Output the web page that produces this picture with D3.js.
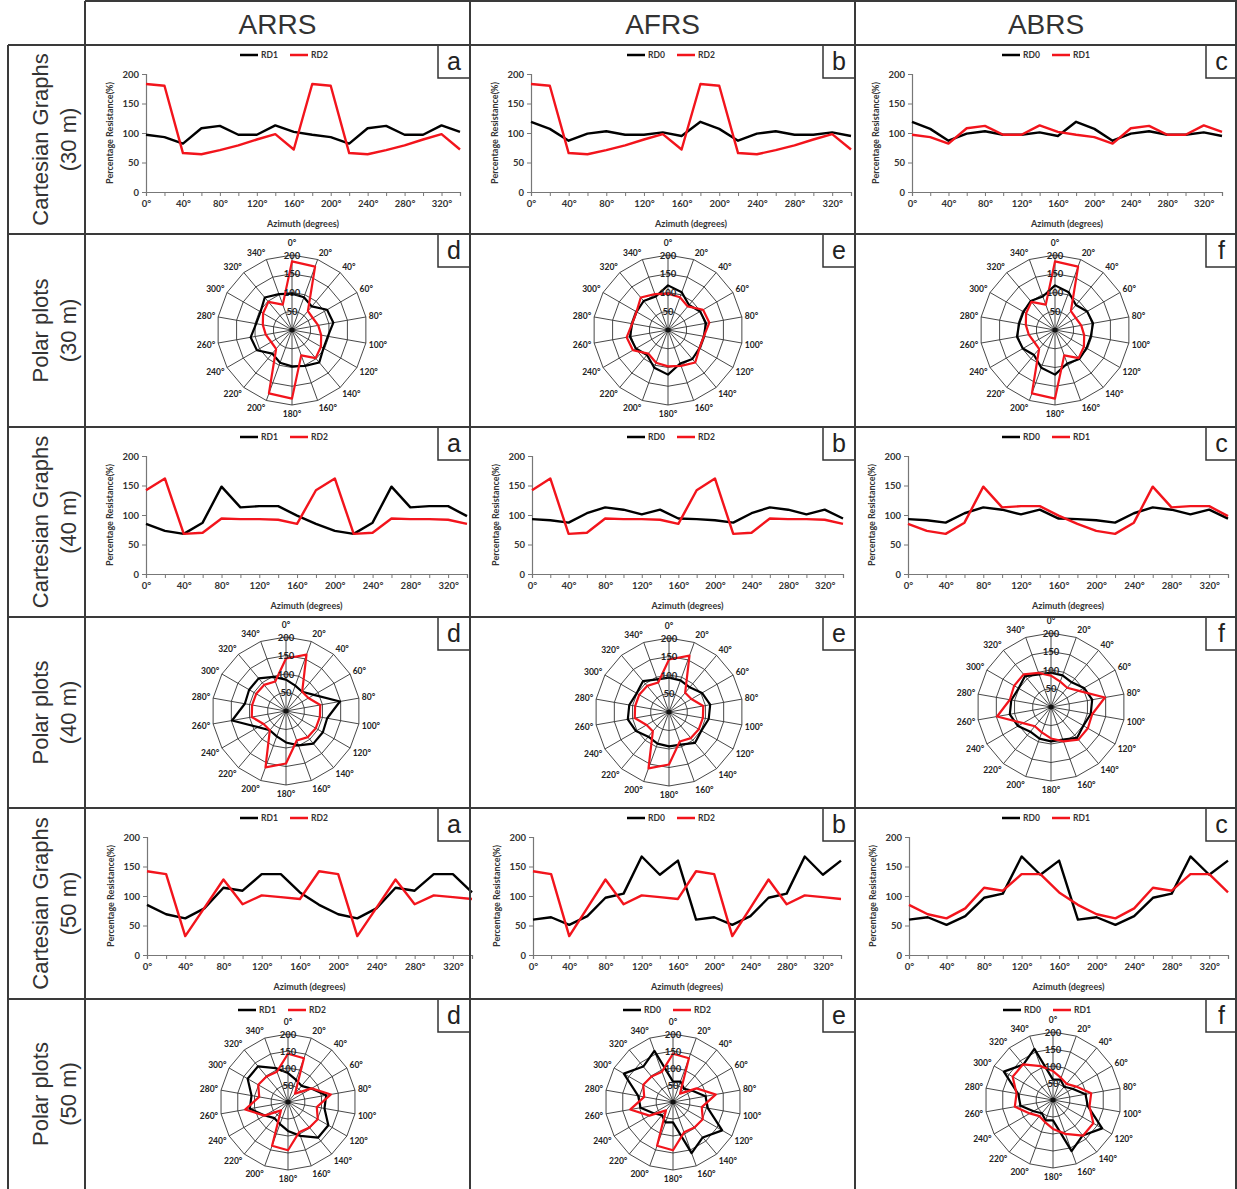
<!DOCTYPE html>
<html><head><meta charset="utf-8">
<script src="https://cdn.jsdelivr.net/npm/d3@7"></script>
<style>body{margin:0;background:#fff}svg{display:block}</style>
</head><body>
<svg id="c" width="1237" height="1189"></svg>
<script>
// ---------------- DATA ----------------
const columnTitles = ["ARRS", "AFRS", "ABRS"];
const rowTitles = [["Cartesian Graphs","(30 m)"],["Polar plots","(30 m)"],["Cartesian Graphs","(40 m)"],["Polar plots","(40 m)"],["Cartesian Graphs","(50 m)"],["Polar plots","(50 m)"]];
const angles = [0,20,40,60,80,100,120,140,160,180,200,220,240,260,280,300,320,340];
const xTickLabels = ["0°","40°","80°","120°","160°","200°","240°","280°","320°"];
const polarLabels = ["0°","20°","40°","60°","80°","100°","120°","140°","160°","180°","200°","220°","240°","260°","280°","300°","320°","340°"];
const yTicks = [0,50,100,150,200];
const ringValues = [50,100,150,200];

// 30 m
const rd0_30 = [119,107,87,99,103,97,97,101,95,119,107,87,99,103,97,97,101,95];
const rd1_30 = [97,93,82,108,112,97,97,113,102,97,93,82,108,112,97,97,113,102];
const rd2_30 = [183,180,66,64,71,79,89,98,72,183,180,66,64,71,79,89,98,72];
// 40 m
const rd0_40 = [93,91,87,103,113,109,101,109,94,93,91,87,103,113,109,101,109,94];
const rd1_40 = [85,73,68,87,148,113,115,115,99,85,73,68,87,148,113,115,115,98];
const rd2_40 = [142,162,68,70,94,93,93,92,85,142,162,68,70,94,93,93,92,85];
// 50 m
const rd0_50 = [60,64,51,66,97,104,167,136,160,60,64,51,66,97,104,167,136,160];
const rd1_50 = [85,69,62,79,114,109,137,137,106,85,69,62,79,114,109,137,137,106];
const rd2_50 = [142,137,32,80,128,86,101,98,95,142,137,32,80,128,86,101,98,95];

const legendNames = [["RD1","RD2"],["RD0","RD2"],["RD0","RD1"]];
const cartLetters = ["a","b","c"];
const polarLetters = ["d","e","f"];

// series per row: [col][black, red]
const cartSeries = {
  0: [[rd1_30, rd2_30],[rd0_30, rd2_30],[rd0_30, rd1_30]],
  2: [[rd1_40, rd2_40],[rd0_40, rd2_40],[rd0_40, rd1_40]],
  4: [[rd1_50, rd2_50],[rd0_50, rd2_50],[rd0_50, rd1_50]]
};
const polarSeries = {
  1: [[rd1_30, rd2_30],[rd0_30, rd1_30],[rd0_30, rd2_30]],
  3: [[rd1_40, rd2_40],[rd0_40, rd2_40],[rd0_40, rd1_40]],
  5: [[rd1_50, rd2_50],[rd0_50, rd2_50],[rd0_50, rd1_50]]
};

// ---------------- LAYOUT ----------------
const colX = [85, 470, 855, 1237];
const rowY = [45, 234, 427, 617, 808, 999, 1189];
const cartX = {
  0: [[61,375],[61,381],[57,367]],
  2: [[61,382],[62,373],[53,373]],
  4: [[62,387],[63,371],[54,373]]
};
const legendCX = [288, 675, 1050];
const polarGeo = {
  1: {r:75, c:[[292,330],[668,330],[1055,330]]},
  3: {r:74, c:[[286,711],[669,712],[1051,707]]},
  5: {r:68, c:[[288,1102],[673,1102],[1053,1100]]}
};
const BLACK = "#000", RED = "#f2141c";
const chartFont = "Lato, 'Open Sans', sans-serif";
const svg = d3.select("#c");

function legend(g, cx, y, names) {
  const w = 96, x0 = cx - w/2;
  const items = [{c:BLACK, n:names[0], x:x0},{c:RED, n:names[1], x:x0+50}];
  items.forEach(it => {
    g.append("line").attr("x1", it.x).attr("x2", it.x+18).attr("y1", y).attr("y2", y)
      .attr("stroke", it.c).attr("stroke-width", 2.5);
    g.append("text").attr("x", it.x+21).attr("y", y+3).text(it.n)
      .attr("font-family", chartFont).attr("font-weight", 700).attr("font-size", 8.5).attr("fill", "#333");
  });
}

function letterBox(g, col, rowTop, letter) {
  const right = colX[col+1], w = col === 2 ? 31 : 32;
  g.append("rect").attr("x", right - w).attr("y", rowTop).attr("width", w).attr("height", 33)
    .attr("fill", "#fff").attr("stroke", "#333").attr("stroke-width", 1.5);
  g.append("text").attr("x", right - w/2).attr("y", rowTop + 25).attr("text-anchor", "middle")
    .attr("font-family", "'Liberation Sans', Arial, sans-serif").attr("font-size", 25).attr("fill", "#222").text(letter);
}

function cartesian(row, col) {
  const g = svg.append("g");
  const y0 = rowY[row];
  const L = colX[col] + cartX[row][col][0], R = colX[col] + cartX[row][col][1];
  const T = y0 + 29, B = y0 + 147;
  const x = d3.scaleLinear().domain([0, 340]).range([L, R]);
  const y = d3.scaleLinear().domain([0, 200]).range([B, T]);
  const ya = g.append("g").attr("transform", `translate(${L},0)`)
    .call(d3.axisLeft(y).tickValues(yTicks).tickSize(4).tickPadding(3));
  const xa = g.append("g").attr("transform", `translate(0,${B})`)
    .call(d3.axisBottom(x).tickValues(angles).tickSize(4).tickPadding(4)
      .tickFormat((d, i) => i % 2 === 0 ? xTickLabels[i/2] : ""));
  [ya, xa].forEach(a => {
    a.select(".domain").attr("stroke", "#777").attr("stroke-width", 1.2);
    a.selectAll(".tick line").attr("stroke", "#777");
    a.selectAll("text").attr("font-family", chartFont).attr("font-weight", 700)
      .attr("font-size", 9.5).attr("fill", "#333");
  });
  g.append("text").attr("transform", `translate(${L-33},${(T+B)/2}) rotate(-90)`)
    .attr("text-anchor", "middle").attr("font-family", chartFont).attr("font-weight", 700)
    .attr("font-size", 9).attr("fill", "#333").text("Percentage Resistance(%)");
  g.append("text").attr("x", (L+R)/2).attr("y", B + 35).attr("text-anchor", "middle")
    .attr("font-family", chartFont).attr("font-weight", 700).attr("font-size", 9)
    .attr("fill", "#333").text("Azimuth (degrees)");
  const line = d3.line().x((d, i) => x(angles[i])).y(d => y(d));
  const s = cartSeries[row][col];
  g.append("path").attr("d", line(s[0])).attr("fill", "none").attr("stroke", BLACK).attr("stroke-width", 2.4).attr("stroke-linejoin", "round");
  g.append("path").attr("d", line(s[1])).attr("fill", "none").attr("stroke", RED).attr("stroke-width", 2.4).attr("stroke-linejoin", "round");
  legend(g, legendCX[col], y0 + 10, legendNames[col]);
  letterBox(g, col, y0, cartLetters[col]);
}

function polar(row, col) {
  const g = svg.append("g");
  const geo = polarGeo[row], R = geo.r, [cx, cy] = geo.c[col];
  const r = d3.scaleLinear().domain([0, 200]).range([0, R]);
  const pg = g.append("g").attr("transform", `translate(${cx},${cy})`);
  const rad = a => a * Math.PI / 180;
  ringValues.forEach(v => {
    const ring = d3.lineRadial().angle(a => rad(a)).radius(() => r(v)).curve(d3.curveLinearClosed);
    pg.append("path").attr("d", ring(angles)).attr("fill", "none").attr("stroke", "#333").attr("stroke-width", 0.9);
  });
  angles.forEach(a => {
    pg.append("line").attr("x1", 0).attr("y1", 0)
      .attr("x2", r(200) * Math.sin(rad(a))).attr("y2", -r(200) * Math.cos(rad(a)))
      .attr("stroke", "#333").attr("stroke-width", 0.9);
  });
  pg.append("circle").attr("r", 2.5).attr("fill", "#111");
  const s = polarSeries[row][col];
  const pl = d3.lineRadial().angle((d, i) => rad(angles[i])).radius(d => r(d)).curve(d3.curveLinearClosed);
  pg.append("path").attr("d", pl(s[0])).attr("fill", "none").attr("stroke", BLACK).attr("stroke-width", 2.2).attr("stroke-linejoin", "round");
  pg.append("path").attr("d", pl(s[1])).attr("fill", "none").attr("stroke", RED).attr("stroke-width", 2.2).attr("stroke-linejoin", "round");
  ringValues.forEach(v => {
    pg.append("text").attr("x", 0).attr("y", -r(v) + 3.5).attr("text-anchor", "middle")
      .attr("font-family", chartFont).attr("font-weight", 700).attr("font-size", 9.5)
      .attr("fill", "#222").text(v);
  });
  angles.forEach((a, i) => {
    const sn = Math.sin(rad(a)), cs = Math.cos(rad(a));
    const anchor = (a === 0 || a === 180) ? "middle" : (a < 180 ? "start" : "end");
    const yy = a === 0 ? -(R + 9) : -(R + 8) * cs + 3.5;
    pg.append("text").attr("x", (R + 3) * sn).attr("y", yy)
      .attr("text-anchor", anchor).attr("font-family", chartFont).attr("font-weight", 700)
      .attr("font-size", 8.5).attr("fill", "#222").text(polarLabels[i]);
  });
  if (row === 5) legend(g, cx - 2, rowY[row] + 11, legendNames[col]);
  letterBox(g, col, rowY[row], polarLetters[col]);
}

// ---------------- DRAW ----------------
[0, 2, 4].forEach(row => [0, 1, 2].forEach(col => cartesian(row, col)));
[1, 3, 5].forEach(row => [0, 1, 2].forEach(col => polar(row, col)));

// table headers
columnTitles.forEach((t, i) => {
  svg.append("text").attr("x", (colX[i] + colX[i+1]) / 2).attr("y", 34).attr("text-anchor", "middle")
    .attr("font-family", "'Liberation Sans', Arial, sans-serif").attr("font-size", 28).attr("fill", "#333").text(t);
});
rowTitles.forEach((t, i) => {
  const cy = (rowY[i] + rowY[i+1]) / 2;
  const tg = svg.append("text").attr("transform", `translate(0,${cy}) rotate(-90)`)
    .attr("text-anchor", "middle").attr("font-family", "'Liberation Sans', Arial, sans-serif")
    .attr("font-size", 22).attr("fill", "#333");
  tg.append("tspan").attr("x", 0).attr("y", 48).text(t[0]);
  tg.append("tspan").attr("x", 0).attr("y", 76).text(t[1]);
});

// grid lines of table
const gl = svg.append("g").attr("stroke", "#3a3a3a").attr("stroke-width", 2);
gl.append("line").attr("x1", 85).attr("x2", 1237).attr("y1", 1).attr("y2", 1);
rowY.slice(0, 6).forEach(yv => gl.append("line").attr("x1", 8).attr("x2", 1237).attr("y1", yv).attr("y2", yv));
gl.append("line").attr("x1", 8).attr("x2", 8).attr("y1", 45).attr("y2", 1189);
[85, 470, 855].forEach(xv => gl.append("line").attr("x1", xv).attr("x2", xv).attr("y1", 1).attr("y2", 1189));
gl.append("line").attr("x1", 1236).attr("x2", 1236).attr("y1", 1).attr("y2", 1189);
</script>
</body></html>
